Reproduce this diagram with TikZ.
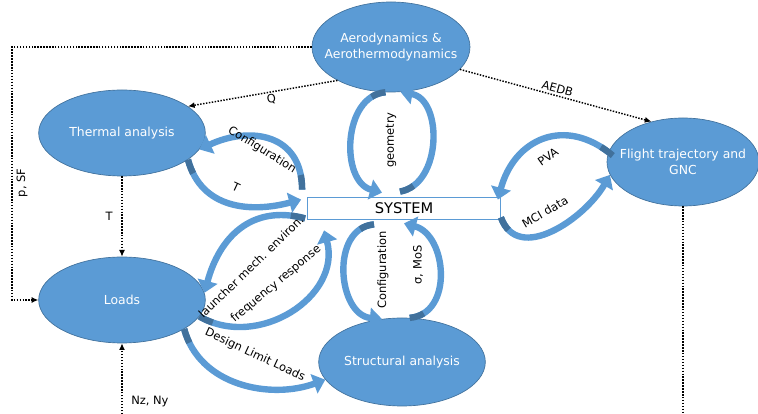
\documentclass[tikz,border=0pt]{standalone}
\usepackage{fontspec}
\setmainfont{DejaVu Sans}
\usepackage{xcolor}
\usetikzlibrary{shapes,calc,positioning,arrows.meta}
\definecolor{blobblue}{HTML}{5B9BD5}
\definecolor{blobedge}{HTML}{41719C}

\begin{document}
\begin{tikzpicture}[x=0.75pt,y=0.75pt]
  \tikzset{ blob/.style={ellipse,fill=blobblue,draw=blobedge,line width=0.5pt,inner sep=0pt},
    btxt/.style={white,font=\fontsize{9.3}{11.5}\selectfont,align=center},
    lbl/.style={black,font=\fontsize{8.6}{10}\selectfont,inner sep=1.5pt},
    dotlink/.style={line width=1.1pt,dash pattern=on 1.1pt off 1.1pt,-{Latex[length=5pt,width=4.5pt]}},
    band/.style={blobblue,line width=4.8pt,-{Triangle[length=9pt,width=15pt]},
      postaction={draw=blobedge,line width=4.8pt,dash pattern=on 11pt off 2000pt,-}},
  }
  \useasboundingbox (0,0) rectangle (758,414);

  % the coordinates of the dotted links
  \coordinate (pcorner) at (12,367);
  \coordinate (nzin) at (122,0);
  \coordinate (gncout) at (683,0);

  \node[blob,minimum width=118.5pt,minimum height=67.5pt] (aero) at (391,367) {};
  \node[blob,minimum width=125pt,minimum height=64.5pt] (thermal) at (122,281) {};
  \node[blob,minimum width=114pt,minimum height=66pt] (flight) at (683,252) {};
  \node[blob,minimum width=125pt,minimum height=64.5pt] (loads) at (122,114) {};
  \node[blob,minimum width=125pt,minimum height=66pt] (struct) at (402,52) {};
  \node[draw=blobblue,fill=white,line width=0.6pt,minimum width=144.75pt,minimum height=16.5pt,
        inner sep=0pt,font=\fontsize{11}{13}\selectfont] (sys) at (404,206) {SYSTEM};

  \node[btxt] (aerot) at (aero) {Aerodynamics \&\\Aerothermodynamics};
  \node[btxt] (thermalt) at (thermal) {Thermal analysis};
  \node[btxt] (flightt) at (flight) {Flight trajectory and\\GNC};
  \node[btxt] (loadst) at (loads) {Loads};
  \node[btxt] (structt) at (struct) {Structural analysis};

  % dotted links
  \draw[dotlink] (aero.west) -- (pcorner) |- (loads.west);
  \draw[dotlink] (aero.212) -- (thermal.22) node[lbl,pos=0.45,below,sloped] {Q};
  \draw[dotlink] (aero.-18) -- (flight.128) node[lbl,midway,above,sloped] {AEDB};
  \draw[dotlink] (thermal.south) -- (loads.north) node[lbl,midway,left,xshift=-5pt] {T};
  \draw[dotlink] (nzin) -- (loads.south);
  \draw[line width=1.1pt,dash pattern=on 1.1pt off 1.1pt] (flight.south) -- (gncout);
  \node[lbl,rotate=90] (psf) at (22,231) {p, SF};
  \node[lbl,anchor=west] (nzny) at (129,12) {Nz, Ny};

  % the curved block arrows
  \draw[band] ([shift={(-5,7)}]sys.north west) to[out=90,in=25,looseness=1.3] (thermal.-12);
  \draw[band] (thermal.-22) to[out=-75,in=195,looseness=1.1] ([shift={(-6,-3)}]sys.north west);
  \draw[band] (aero.-97) to[out=185,in=165,looseness=1.1] ([shift={(-22,4)}]sys.north);
  \draw[band] ([shift={(-4,5)}]sys.north) to[out=10,in=-10,looseness=1.1] (aero.-78);
  \draw[band] ([shift={(-30,-5)}]sys.south) to[out=185,in=175,looseness=1.2] (struct.115);
  \draw[band] (struct.80) to[out=5,in=-15,looseness=1.2] ([shift={(0,-4)}]sys.south);
  \draw[band] ([shift={(4,-4)}]flight.172) to[out=140,in=75,looseness=1.3] ([shift={(-3,-3)}]sys.north east);
  \draw[band] ([shift={(0,2)}]sys.south east) to[out=-70,in=-120,looseness=1.1] (flight.190);
  \draw[band] ([shift={(-2,1)}]sys.south west) to[out=165,in=75,looseness=1.15] (loads.5);
  \draw[band] (loads.-12) to[out=-30,in=-75,looseness=1.15] ([shift={(17,-11)}]sys.south west);
  \draw[band] (loads.-25) to[out=-75,in=200] (struct.193);

  % labels of the block arrows
  \node[lbl,rotate=-32] (cfgt) at (262,264) {Configuration};
  \node[lbl,rotate=-25] (tt) at (236,227) {T};
  \node[lbl,rotate=90] (geo) at (391,274) {geometry};
  \node[lbl,rotate=90] (cfgs) at (383,144) {Configuration};
  \node[lbl,rotate=90] (sig) at (418,149) {σ, MoS};
  \node[lbl,rotate=35] (pva) at (548,257) {PVA};
  \node[lbl,rotate=30] (mci) at (545,202) {MCI data};
  \node[lbl,rotate=44] (lme) at (251,147) {launcher mech. environ.};
  \node[lbl,rotate=40] (frq) at (276,130) {frequency response};
  \node[lbl,rotate=-25] (dll) at (255,59) {Design Limit Loads};
\end{tikzpicture}
\end{document}
